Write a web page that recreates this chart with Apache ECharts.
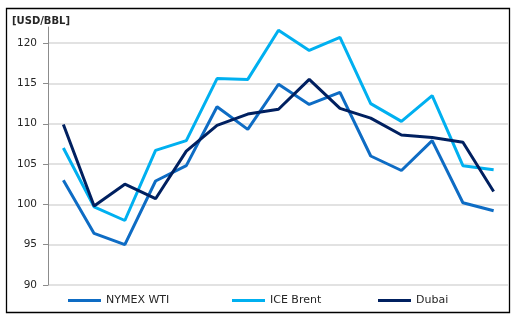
<!DOCTYPE html>
<html><head><meta charset="utf-8">
<script src="https://cdn.jsdelivr.net/npm/echarts@6/dist/echarts.min.js"></script>
<style>html,body{margin:0;padding:0;background:#fff}#c{width:516px;height:322px}</style>
</head><body><div id="c"></div>
<script>
const categories = ['1','2','3','4','5','6','7','8','9','10','11','12','13','14','15'];
const nymexWTI = [103.0, 96.4, 95.0, 102.9, 104.8, 112.1, 109.3, 114.9, 112.4, 113.9, 106.0, 104.2, 107.9, 100.2, 99.2];
const iceBrent = [107.0, 99.7, 98.0, 106.7, 107.9, 115.6, 115.5, 121.6, 119.1, 120.7, 112.5, 110.3, 113.5, 104.8, 104.3];
const dubai = [109.9, 99.8, 102.5, 100.7, 106.6, 109.8, 111.2, 111.8, 115.5, 111.9, 110.7, 108.6, 108.3, 107.7, 101.6];
const yTicks = [90, 95, 100, 105, 110, 115, 120];
const seriesNames = ['NYMEX WTI', 'ICE Brent', 'Dubai'];
const colors = ['#0E6CC4', '#00B0F0', '#002060'];

const chart = echarts.init(document.getElementById('c'), null, {renderer: 'canvas'});
const font = 'DejaVu Sans';
const legendLefts = [68, 232, 378];
chart.setOption({
  animation: false,
  backgroundColor: '#fff',
  title: {text: '[USD/BBL]', left: 12, top: 16, padding: 0, textStyle: {fontFamily: font, fontSize: 10, fontWeight: 'bold', color: '#262626'}},
  grid: {left: 48, right: 7, top: 27, bottom: 37, containLabel: false},
  xAxis: {type: 'category', data: categories, boundaryGap: true, axisLine: {show: false}, axisTick: {show: false}, axisLabel: {show: false}},
  yAxis: {type: 'value', min: yTicks[0], max: 122, interval: 5,
    axisLine: {show: true, lineStyle: {color: '#8C8C8C', width: 1}},
    axisTick: {show: true, length: 5, lineStyle: {color: '#8C8C8C'}},
    axisLabel: {showMaxLabel: false, fontFamily: font, fontSize: 10.5, color: '#262626', margin: 11},
    splitLine: {show: true, showMaxLine: false, lineStyle: {color: '#D9D9D9', width: 1.5}}
  },
  legend: seriesNames.map((n, i) => ({
    data: [n], left: legendLefts[i], top: 295, padding: 0, icon: 'rect', itemWidth: 33, itemHeight: 3, itemGap: 4,
    textStyle: {fontFamily: font, fontSize: 11, color: '#262626'}
  })),
  series: [nymexWTI, iceBrent, dubai].map((d, i) => ({
    name: seriesNames[i], type: 'line', data: d, symbol: 'none', smooth: false,
    lineStyle: {color: colors[i], width: 3}, itemStyle: {color: colors[i]}
  })),
  graphic: [{type: 'rect', shape: {x: 6.5, y: 8.5, width: 503, height: 304}, style: {fill: 'none', stroke: '#000', lineWidth: 1.3}, silent: true}]
});
</script></body></html>
